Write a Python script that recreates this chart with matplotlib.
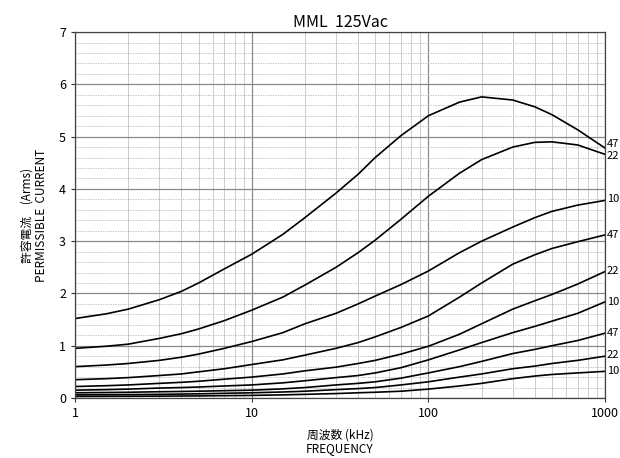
import matplotlib
matplotlib.use("Agg")
import matplotlib.pyplot as plt
import numpy as np
from matplotlib.ticker import FixedLocator, NullFormatter

plt.rcParams['font.family'] = ['Noto Sans CJK JP', 'DejaVu Sans']

# frequency points (kHz)
freq = [1, 1.5, 2, 3, 4, 5, 7, 10, 15, 20, 30, 40, 50, 70, 100, 150, 200, 300, 400, 500, 700, 1000]

# permissible current (Arms), top curve first
c1 = [1.52, 1.61, 1.70, 1.88, 2.04, 2.20, 2.47, 2.75, 3.13, 3.45, 3.92, 4.28, 4.60, 5.02, 5.40, 5.66, 5.76, 5.70, 5.57, 5.42, 5.13, 4.78]
c2 = [0.95, 0.99, 1.03, 1.14, 1.23, 1.32, 1.48, 1.68, 1.93, 2.16, 2.50, 2.78, 3.02, 3.42, 3.86, 4.30, 4.56, 4.80, 4.89, 4.90, 4.84, 4.66]
c3 = [0.60, 0.63, 0.66, 0.72, 0.78, 0.84, 0.95, 1.08, 1.25, 1.42, 1.62, 1.80, 1.95, 2.17, 2.43, 2.78, 3.00, 3.27, 3.45, 3.57, 3.69, 3.78]
c4 = [0.35, 0.37, 0.39, 0.43, 0.46, 0.50, 0.56, 0.64, 0.73, 0.82, 0.95, 1.06, 1.17, 1.35, 1.57, 1.93, 2.20, 2.56, 2.74, 2.86, 2.99, 3.12]
c5 = [0.22, 0.235, 0.25, 0.28, 0.30, 0.32, 0.36, 0.40, 0.46, 0.52, 0.59, 0.66, 0.72, 0.84, 0.99, 1.22, 1.42, 1.70, 1.86, 1.98, 2.18, 2.42]
c6 = [0.15, 0.16, 0.17, 0.19, 0.20, 0.21, 0.23, 0.25, 0.29, 0.33, 0.39, 0.43, 0.48, 0.58, 0.73, 0.92, 1.06, 1.25, 1.37, 1.47, 1.62, 1.84]
c7 = [0.10, 0.105, 0.11, 0.12, 0.125, 0.13, 0.14, 0.15, 0.175, 0.20, 0.25, 0.28, 0.31, 0.38, 0.48, 0.60, 0.70, 0.85, 0.93, 1.00, 1.10, 1.24]
c8 = [0.06, 0.063, 0.065, 0.07, 0.075, 0.08, 0.09, 0.10, 0.115, 0.13, 0.16, 0.18, 0.20, 0.25, 0.31, 0.40, 0.46, 0.56, 0.61, 0.66, 0.72, 0.80]
c9 = [0.03, 0.032, 0.033, 0.036, 0.038, 0.04, 0.045, 0.05, 0.06, 0.07, 0.085, 0.10, 0.11, 0.13, 0.17, 0.23, 0.28, 0.37, 0.42, 0.45, 0.48, 0.51]
curves = [c1, c2, c3, c4, c5, c6, c7, c8, c9]
end_labels = ['47', '22', '10', '47', '22', '10', '47', '22', '10']
label_y = [4.86, 4.62, 3.80, 3.12, 2.42, 1.84, 1.24, 0.82, 0.52]

fig = plt.figure(figsize=(6.2, 4.58), dpi=100)
ax = fig.add_axes([0.121, 0.131, 0.855, 0.799])

ax.set_xscale('log')
ax.set_xlim(1, 1000)
ax.set_ylim(0, 7)

# grid
ax.xaxis.set_minor_locator(FixedLocator([m * 10**d for d in range(3) for m in range(2, 10)]))
ax.xaxis.set_minor_formatter(NullFormatter())
ax.set_yticks(np.arange(0, 8, 1))
ax.set_yticks(np.arange(0, 7.01, 0.2), minor=True)
ax.grid(True, which='major', axis='x', color='#8a8a8a', lw=0.9)
ax.grid(True, which='minor', axis='x', color='#c4c4c4', lw=0.6)
ax.grid(True, which='major', axis='y', color='#8a8a8a', lw=0.9)
ax.grid(True, which='minor', axis='y', color='#b4b4b4', lw=0.6, ls=(0, (1.5, 1.5)))
ax.set_axisbelow(True)

for c in curves:
    ax.plot(freq, c, color='black', lw=1.2)

for lab, yv in zip(end_labels, label_y):
    ax.text(1.003, yv, lab, transform=ax.get_yaxis_transform(), fontsize=8,
            va='center', ha='left', clip_on=False)

ax.set_xticks([1, 10, 100, 1000])
ax.set_xticklabels(['1', '10', '100', '1000'])
ax.tick_params(axis='both', which='major', labelsize=9, length=3, width=0.8, color='#333333')
ax.tick_params(axis='both', which='minor', length=0)
for s in ax.spines.values():
    s.set_color('#444444')
    s.set_linewidth(0.9)

ax.set_title('MML  125Vac', fontsize=11.5, pad=4)
ax.set_xlabel('周波数 (kHz)\nFREQUENCY', fontsize=8.5, labelpad=6, linespacing=1.1)
ax.set_ylabel('許容電流　(Arms)\nPERMISSIBLE  CURRENT', fontsize=8.5, labelpad=8, linespacing=1.1)

fig.savefig('out.png', dpi=100)
